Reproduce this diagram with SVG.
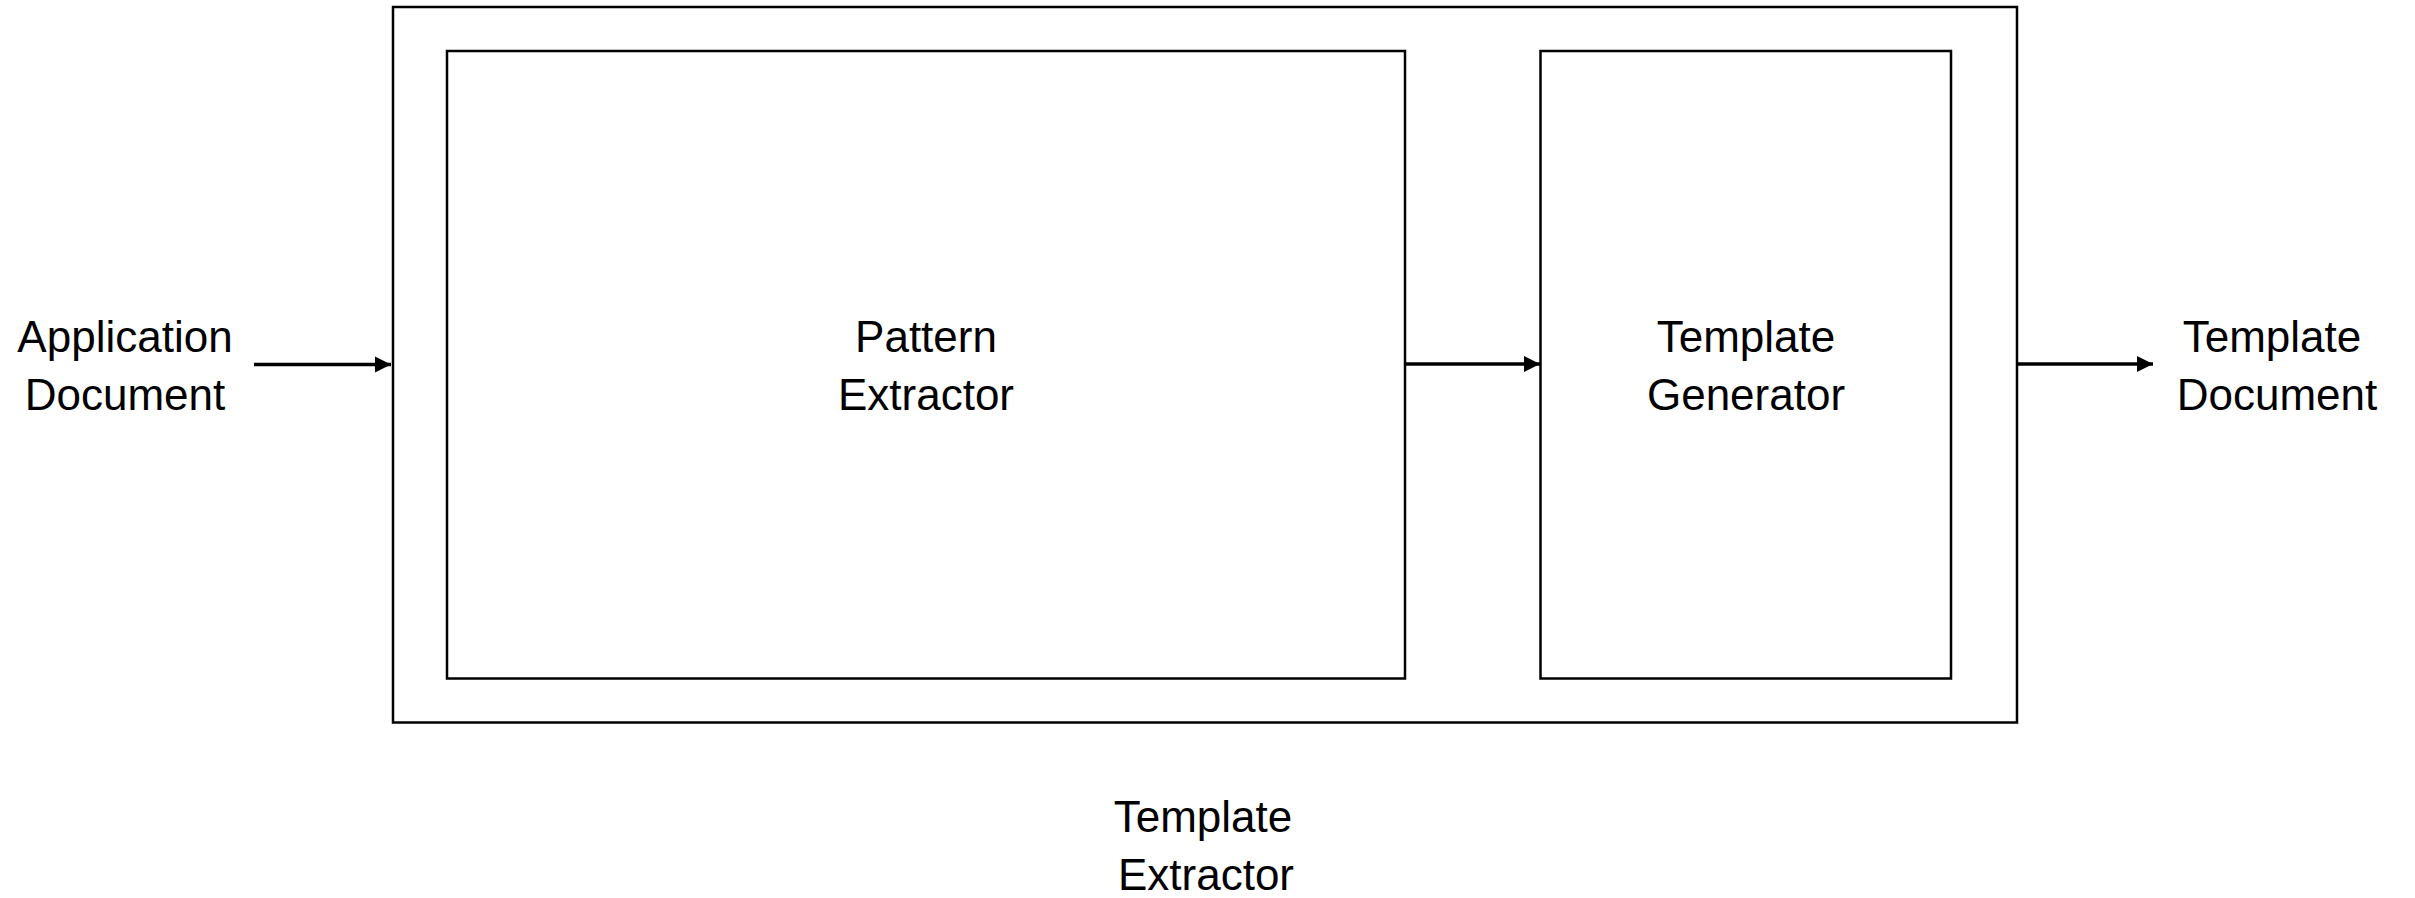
<svg xmlns="http://www.w3.org/2000/svg" width="2415" height="898" viewBox="0 0 2415 898">
<style>
.box{fill:none;stroke:#000;stroke-width:2.5}
.lbl{font-family:"Liberation Sans","Noto Sans",Arial,sans-serif;font-size:44px;fill:#000;text-anchor:middle}
.conn{stroke:#000;stroke-width:3.5;fill:none}
</style>
<defs>
<marker id="arr" viewBox="0 0 10 10" refX="10" refY="5" markerWidth="4.6" markerHeight="4.6" orient="auto" markerUnits="strokeWidth">
<path d="M0,0 L10,5 L0,10 z" fill="#000"/>
</marker>
</defs>
<rect width="2415" height="898" fill="#fff"/>
<g id="template-extractor">
<rect class="box" x="393" y="7" width="1624" height="715.5"/>
<text class="lbl" x="1203" y="832">Template</text>
<text class="lbl" x="1206" y="890">Extractor</text>
</g>
<g id="pattern-extractor">
<rect class="box" x="447" y="51" width="958" height="627.5"/>
<text class="lbl" x="926" y="352">Pattern</text>
<text class="lbl" x="926" y="410">Extractor</text>
</g>
<g id="template-generator">
<rect class="box" x="1540.5" y="51" width="410.5" height="627.5"/>
<text class="lbl" x="1746" y="352">Template</text>
<text class="lbl" x="1746" y="410">Generator</text>
</g>
<g id="application-document">
<text class="lbl" x="125" y="352">Application</text>
<text class="lbl" x="125" y="410">Document</text>
</g>
<g id="template-document">
<text class="lbl" x="2272" y="352">Template</text>
<text class="lbl" x="2277" y="410">Document</text>
</g>
<g id="connectors">
<line class="conn" x1="254" y1="364.5" x2="391" y2="364.5" marker-end="url(#arr)"/>
<line class="conn" x1="1406" y1="364" x2="1540" y2="364" marker-end="url(#arr)"/>
<line class="conn" x1="2018" y1="364" x2="2153" y2="364" marker-end="url(#arr)"/>
</g>
</svg>
